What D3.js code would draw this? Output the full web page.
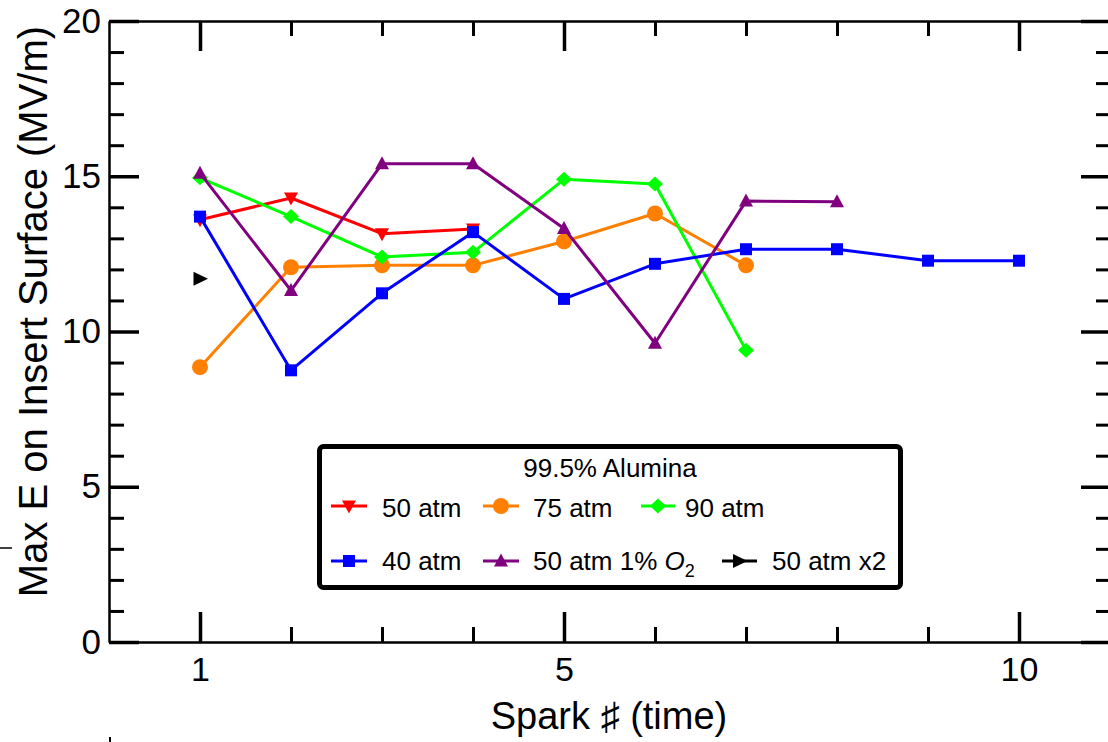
<!DOCTYPE html>
<html>
<head>
<meta charset="utf-8">
<script src="https://cdn.jsdelivr.net/npm/d3@7"></script>
<style>
  body { margin: 0; background: #fff; }
  svg { display: block; font-family: "Liberation Sans", Arial, sans-serif; }
  .axis path, .axis line { stroke: #000; }
</style>
</head>
<body>
<div id="chart"></div>
<script>
// data
var sparks = [1, 2, 3, 4, 5, 6, 7, 8, 9, 10];
var e50atm = [13.6, 14.3, 13.15, 13.3];
var e75atm = [8.85, 12.07, 12.13, 12.13, 12.9, 13.8, 12.13];
var e90atm = [14.95, 13.7, 12.4, 12.55, 14.9, 14.75, 9.4];
var e40atm = [13.7, 8.75, 11.23, 13.2, 11.05, 12.18, 12.65, 12.65, 12.28, 12.28];
var e50atmO2 = [15.1, 11.32, 15.4, 15.4, 13.32, 9.62, 14.2, 14.18];
var e50atmX2 = [11.7];

var seriesNames = ["50 atm", "75 atm", "90 atm", "40 atm", "50 atm 1% O2", "50 atm x2"];
var seriesColors = ["#ff0000", "#ff8000", "#00ff00", "#0000ff", "#800080", "#000000"];
var seriesShapes = ["tridown", "circle", "diamond", "square", "triup", "triright"];
var seriesValues = [e50atm, e75atm, e90atm, e40atm, e50atmO2, e50atmX2];

var xMajor = [1, 5, 10];
var xMinor = [2, 3, 4, 6, 7, 8, 9];
var yMajor = [0, 5, 10, 15, 20];
var yMinor = d3.range(0, 21).filter(function (v) { return v % 5 != 0; });

var W = 1108, H = 742;
var svg = d3.select("#chart").append("svg").attr("width", W).attr("height", H);

var x = d3.scaleLinear().domain([0, 11]).range([109, 1110]);
var y = d3.scaleLinear().domain([0, 20]).range([642, 21]);

//AXES - ticks pointing inward
function drawAxis(axisFn, tx, ty, values, len, width, labels) {
    var a = axisFn.tickValues(values).tickSize(-len).tickSizeOuter(0);
    if (!labels) a.tickFormat("");
    var g = svg.append("g").attr("class", "axis").attr("transform", "translate(" + tx + "," + ty + ")").call(a);
    g.select(".domain").attr("stroke-width", 2);
    g.selectAll(".tick line").attr("stroke-width", width);
    return g;
}

drawAxis(d3.axisBottom(x), 0, 642, xMinor, 15, 3, false);
var gx = drawAxis(d3.axisBottom(x).tickPadding(15), 0, 642, xMajor, 30, 3.5, true);
gx.selectAll("text").attr("font-size", 34).attr("fill", "#000").attr("font-family", "Liberation Sans, Arial, sans-serif");
drawAxis(d3.axisTop(x), 0, 21, xMinor, 15, 3, false);
drawAxis(d3.axisTop(x), 0, 21, xMajor, 30, 3.5, false);

drawAxis(d3.axisLeft(y), 109, 0, yMinor, 15, 3, false);
var gy = drawAxis(d3.axisLeft(y).tickPadding(8), 109, 0, yMajor, 30, 3.5, true);
gy.selectAll("text").attr("font-size", 35).attr("fill", "#000").attr("font-family", "Liberation Sans, Arial, sans-serif");
drawAxis(d3.axisRight(y), 1110, 0, yMinor, 14, 3, false);
drawAxis(d3.axisRight(y), 1110, 0, yMajor, 29, 3.5, false);

//AXIS TITLES
svg.append("text")
    .attr("x", 609).attr("y", 729)
    .attr("text-anchor", "middle")
    .attr("font-size", 38)
    .text("Spark \u266F (time)");

svg.append("text")
    .attr("transform", "translate(47,311.5) rotate(-90)")
    .attr("text-anchor", "middle")
    .attr("font-size", 40)
    .text("Max E on Insert Surface (MV/m)");

//MARKER SHAPES
function markerPath(shape) {
    var p = d3.path();
    if (shape == "tridown") {
        p.moveTo(-7, -5.5); p.lineTo(7, -5.5); p.lineTo(0, 7.5); p.closePath();
        return p.toString();
    }
    if (shape == "triup") {
        p.moveTo(-7, 5.5); p.lineTo(7, 5.5); p.lineTo(0, -7.5); p.closePath();
        return p.toString();
    }
    if (shape == "triright") {
        p.moveTo(-6.5, -7); p.lineTo(-6.5, 7); p.lineTo(8, 0); p.closePath();
        return p.toString();
    }
    if (shape == "diamond") {
        p.moveTo(0, -7.5); p.lineTo(8, 0); p.lineTo(0, 7.5); p.lineTo(-8, 0); p.closePath();
        return p.toString();
    }
    if (shape == "square") return d3.symbol(d3.symbolSquare, 144)();
    return d3.symbol(d3.symbolCircle, 201)();
}

//SERIES
var line = d3.line()
    .x(function (d) { return x(d.s); })
    .y(function (d) { return y(d.v); });

seriesValues.forEach(function (vals, i) {
    var pts = vals.map(function (v, j) { return { s: sparks[j], v: v }; });
    var g = svg.append("g");
    g.append("path")
        .datum(pts)
        .attr("d", line)
        .attr("fill", "none")
        .attr("stroke", seriesColors[i])
        .attr("stroke-width", 3)
        .attr("stroke-linejoin", "round");
    g.selectAll(".m").data(pts).enter().append("path")
        .attr("transform", function (d) { return "translate(" + x(d.s) + "," + y(d.v) + ")"; })
        .attr("d", markerPath(seriesShapes[i]))
        .attr("fill", seriesColors[i]);
});

//LEGEND
var lg = svg.append("g");
lg.append("rect")
    .attr("x", 319.5).attr("y", 446.5).attr("width", 581).attr("height", 141)
    .attr("rx", 4)
    .attr("fill", "#fff").attr("stroke", "#000").attr("stroke-width", 5);
lg.append("text")
    .attr("x", 610).attr("y", 477)
    .attr("text-anchor", "middle").attr("font-size", 26)
    .text("99.5% Alumina");

var legPos = [
    { x1: 331, x2: 367, ly: 506, tx: 382, ty: 517 },
    { x1: 483, x2: 519, ly: 506, tx: 533, ty: 517 },
    { x1: 641, x2: 675, ly: 506, tx: 685, ty: 517 },
    { x1: 331, x2: 367, ly: 561, tx: 382, ty: 570 },
    { x1: 483, x2: 519, ly: 561, tx: 533, ty: 570 },
    { x1: 722, x2: 757, ly: 561, tx: 772, ty: 570 }
];

seriesNames.forEach(function (name, i) {
    var p = legPos[i];
    lg.append("line")
        .attr("x1", p.x1).attr("x2", p.x2).attr("y1", p.ly).attr("y2", p.ly)
        .attr("stroke", seriesColors[i]).attr("stroke-width", 3);
    lg.append("path")
        .attr("transform", "translate(" + ((p.x1 + p.x2) / 2) + "," + p.ly + ")")
        .attr("d", markerPath(seriesShapes[i]))
        .attr("fill", seriesColors[i]);
    var t = lg.append("text").attr("x", p.tx).attr("y", p.ty).attr("font-size", 26);
    if (name == "50 atm 1% O2") {
        t.append("tspan").text("50 atm 1% ");
        t.append("tspan").attr("font-style", "italic").text("O");
        t.append("tspan").attr("font-size", 18).attr("dy", 7).text("2");
    } else {
        t.text(name);
    }
});

//stray marks at the edges of the picture
svg.append("line").attr("x1", 0).attr("x2", 12).attr("y1", 548).attr("y2", 548)
    .attr("stroke", "#000").attr("stroke-width", 1.5);
svg.append("line").attr("x1", 110).attr("x2", 110).attr("y1", 737).attr("y2", 742)
    .attr("stroke", "#000").attr("stroke-width", 2);
</script>
</body>
</html>
